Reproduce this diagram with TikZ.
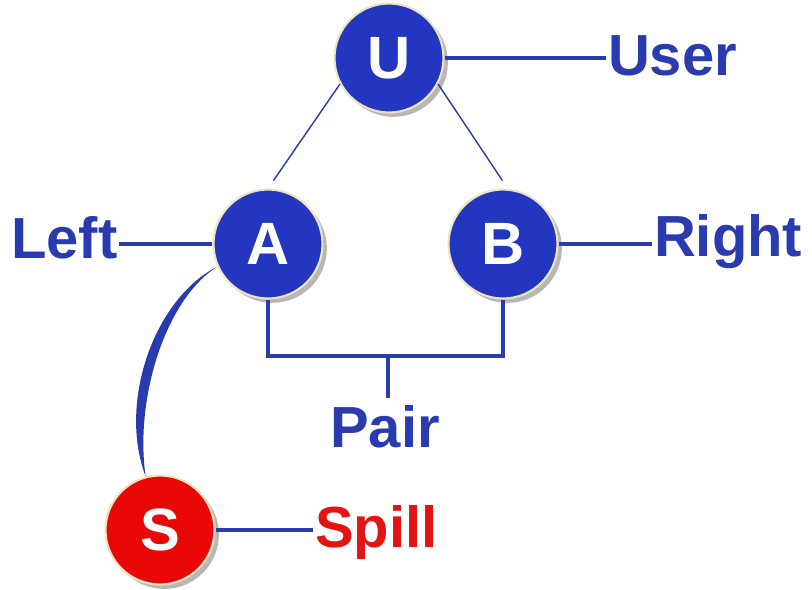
\documentclass[tikz,border=0pt]{standalone}
\usepackage{fontspec}
\setmainfont{Liberation Sans}
\usepackage{xcolor}
\usepackage{tikz}
\usetikzlibrary{shadows}
\definecolor{lineblue}{HTML}{2A3BB0}
\definecolor{ballin}{HTML}{2236C0}
\definecolor{ballout}{HTML}{0C1670}
\definecolor{redin}{HTML}{E80808}
\definecolor{redout}{HTML}{940000}
\definecolor{spillred}{HTML}{E41414}
\definecolor{rim}{HTML}{EDE3BE}
\pgfdeclareradialshading{blueshade}{\pgfpointorigin}{color(0bp)=(ballin); color(32bp)=(ballin); color(50bp)=(ballout)}
\pgfdeclareradialshading{redshade}{\pgfpointorigin}{color(0bp)=(redin); color(32bp)=(redin); color(50bp)=(redout)}
\tikzset{
  ball/.style={circle, minimum size=2.18cm, inner sep=0pt, draw=rim, line width=1.2pt,
    shade, shading=blueshade, text=white, font=\fontsize{34}{40}\selectfont\bfseries,
    drop shadow={shadow xshift=2.5pt, shadow yshift=-2.5pt, opacity=0.4, fill=black!70}},
  spillball/.style={ball, shading=redshade},
  lab/.style={text=lineblue, inner sep=1pt, font=\fontsize{33}{40}\selectfont\bfseries},
  link/.style={draw=lineblue, line width=2.2pt},
  thinlink/.style={draw=lineblue, line width=0.8pt}
}

\begin{document}
\begin{tikzpicture}[x=0.02cm, y=-0.02cm]
  \useasboundingbox (0,0) rectangle (812,589);

  \node[ball] (u) at (389,58) {U};
  \node[ball] (a) at (268,244) {A};
  \node[ball] (b) at (503,244) {B};
  \node[spillball] (s) at (160,530) {S};

  \node[lab, anchor=base west] (user) at (606,75) {User};
  \node[lab, anchor=base west] (left) at (9,258) {Left};
  \node[lab, anchor=base west] (right) at (652,256) {Right};
  \node[lab, anchor=base] (pair) at (385,447) {Pair};
  \node[lab, text=spillred, anchor=base west] (spill) at (313,547) {Spill};

  % label links
  \draw[link] (u.east) -- (u.east -| user.west);
  \draw[link] (a.west) -- (a.west -| left.east);
  \draw[link] (b.east) -- (b.east -| right.west);
  \draw[link] (s.east) -- (s.east -| spill.west);

  \draw[thinlink, shorten >=5.5pt] (u.208) -- (a.90);
  \draw[thinlink, shorten >=5.5pt] (u.-28) -- (b.85);

  % pair bracket
  \coordinate (pj) at (388,356);
  \draw[link] (a.south) |- (pj) -| (b.south);
  \draw[link, shorten >=3pt] (pj) -- (pj |- pair.north);

  % spill arc
  \coordinate (arctop) at (a.204);
  \coordinate (arcbot) at (s.105);
  \fill[lineblue] (arctop) .. controls +(-63,32) and +(-28,-74) .. (arcbot)
    .. controls +(-11,-76) and +(-53,34) .. (arctop);
\end{tikzpicture}
\end{document}
